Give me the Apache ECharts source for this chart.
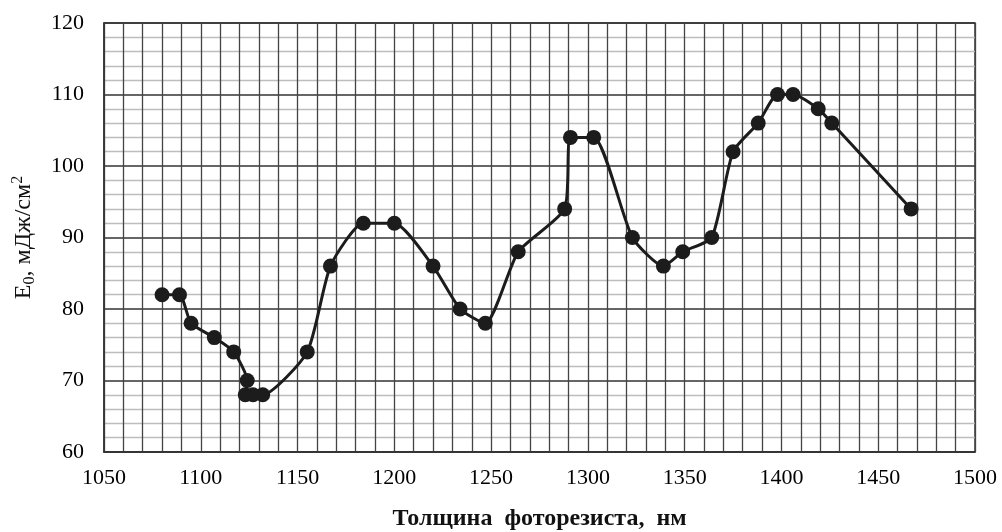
<!DOCTYPE html>
<html>
<head>
<meta charset="utf-8">
<script src="https://cdn.jsdelivr.net/npm/echarts@6/dist/echarts.min.js"></script>
<style>
  html, body { margin: 0; padding: 0; background: #fff; }
  #chart { width: 1002px; height: 532px; }
</style>
</head>
<body>
<div id="chart"></div>
<script>
// толщина фоторезиста, нм
const thickness = [1080, 1089, 1095, 1107, 1117, 1124, 1123, 1127, 1132, 1155, 1167, 1184, 1200,
  1220, 1234, 1247, 1264, 1288, 1291, 1303, 1323, 1339, 1349, 1364, 1375, 1388, 1398, 1406,
  1419, 1426, 1467];
// E0, мДж/см2
const energy = [82, 82, 78, 76, 74, 70, 68, 68, 68, 74, 86, 92, 92,
  86, 80, 78, 88, 94, 104, 104, 90, 86, 88, 90, 102, 106, 110, 110,
  108, 106, 94];

const yTicks = [60, 70, 80, 90, 100, 110, 120];

const points = thickness.map((t, i) => [t, energy[i]]);

const chart = echarts.init(document.getElementById("chart"));

const ink = "#111";
const font = "Liberation Serif";

chart.setOption({
  animation: false,
  backgroundColor: "#fff",
  grid: {
    left: 104,
    right: 27,
    top: 23,
    bottom: 80,
    outerBoundsMode: "none",
    containLabel: false,
    show: true,
    borderColor: "#333",
    borderWidth: 1.5,
  },
  xAxis: {
    type: "value",
    min: 1050,
    max: 1500,
    interval: 10,
    name: "Толщина  фоторезиста,  нм",
    nameLocation: "middle",
    nameGap: 55,
    nameTextStyle: { fontFamily: font, fontSize: 24, fontWeight: "bold", color: ink },
    axisLine: { show: true, lineStyle: { color: "#333", width: 1.5 } },
    axisTick: { show: false },
    axisLabel: {
      fontFamily: font,
      fontSize: 22,
      color: "#000",
      margin: 15,
      formatter: (v) => (v % 50 === 0 ? String(v) : ""),
    },
    splitLine: { show: true, lineStyle: { color: "#444", width: 1.3 } },
  },
  yAxis: {
    type: "value",
    min: yTicks[0],
    max: yTicks[yTicks.length - 1],
    interval: 10,
    name: "{a|E}{sub|0}{a|, мДж/см}{sup|2}",
    nameLocation: "middle",
    nameGap: 66,
    nameRotate: 90,
    nameTextStyle: {
      color: ink,
      rich: {
        a: { fontFamily: font, fontSize: 24, color: ink, lineHeight: 28 },
        sub: { fontFamily: font, fontSize: 16, color: ink, lineHeight: 28, verticalAlign: "bottom" },
        sup: { fontFamily: font, fontSize: 16, color: ink, lineHeight: 28, verticalAlign: "top" },
      },
    },
    axisLine: { show: true, lineStyle: { color: "#333", width: 1.5 } },
    axisTick: { show: false },
    minorTick: { show: false, splitNumber: 5 },
    axisLabel: { fontFamily: font, fontSize: 22, color: "#000", margin: 20 },
    splitLine: { show: true, lineStyle: { color: "#333", width: 1.5 } },
    minorSplitLine: { show: true, lineStyle: { color: "#bdbdbd", width: 1.3 } },
  },
  series: [
    {
      type: "line",
      data: points,
      smooth: 0.2,
      symbol: "circle",
      symbolSize: 15,
      lineStyle: { color: "#1c1c1c", width: 3 },
      itemStyle: { color: "#1c1c1c" },
      z: 5,
    },
  ],
});
</script>
</body>
</html>
